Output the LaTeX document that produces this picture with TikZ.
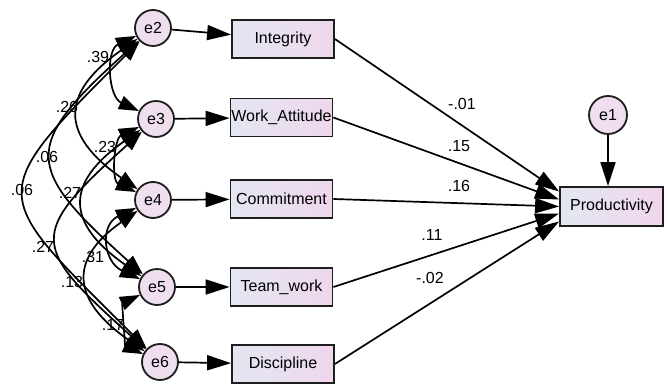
\documentclass[tikz,border=0pt]{standalone}
\usepackage{fontspec}
\setmainfont{Liberation Sans}
\usetikzlibrary{arrows.meta}
\definecolor{boxL}{RGB}{226,231,242}
\definecolor{boxR}{RGB}{240,214,236}
\definecolor{errF}{RGB}{238,222,238}
\definecolor{edge}{RGB}{30,30,30}
\begin{document}
\begin{tikzpicture}[x=1pt,y=1pt,
  font=\fontsize{16}{19}\selectfont,
  box/.style={draw=edge, line width=1.8pt, left color=boxL, right color=boxR,
    minimum width=102pt, minimum height=38pt, inner sep=0pt},
  err/.style={circle, draw=edge, line width=1.8pt, fill=errF,
    minimum size=36pt, inner sep=0pt},
  pth/.style={line width=1.7pt, -{Triangle[length=24pt,width=15pt]}},
  cov/.style={line width=1.7pt,
    {Triangle[length=20pt,width=14pt]}-{Triangle[length=20pt,width=14pt]}},
  lbl/.style={inner sep=0pt}]
\useasboundingbox (0,0) rectangle (668,385);

% error terms
\node[err] (e2) at (153,357) {e2};
\node[err] (e3) at (156,266) {e3};
\node[err] (e4) at (153,185) {e4};
\node[err] (e5) at (157,98) {e5};
\node[err] (e6) at (160,23) {e6};
\node[err, minimum size=38pt] (e1) at (608,270) {e1};

% boxes
\node[box] (intg) at (283,346) {Integrity};
\node[box] (watt) at (281.5,267.5) {Work\_Attitude};
\node[box] (comm) at (281.5,186) {Commitment};
\node[box] (team) at (281.5,98) {Team\_work};
\node[box] (disc) at (283,21) {Discipline};
\node[box, minimum width=103pt, minimum height=39pt] (prod) at (611.5,178.5) {Productivity};

% error -> observed
\draw[pth] (e2) -- (intg);
\draw[pth] (e3) -- (watt);
\draw[pth] (e4) -- (comm);
\draw[pth] (e5) -- (team);
\draw[pth] (e6) -- (disc);
\draw[pth] (e1.south) -- (e1.south |- prod.north);

% observed -> productivity
\draw[pth] (intg.east) -- ([yshift=15pt]prod.west);
\draw[pth] (watt.east) -- ([yshift=7pt]prod.west);
\draw[pth] (comm.east) -- (prod.west);
\draw[pth] (team.east) -- ([yshift=-7pt]prod.west);
\draw[pth] (disc.east) -- ([yshift=-15pt]prod.west);

% covariances
\draw[cov] (e2) to[out=205, in=155, looseness=1.15] (e3);
\draw[cov] (e3) to[out=205, in=155, looseness=1.08] (e4);
\draw[cov] (e4) to[out=205, in=155, looseness=1.45] (e5);
\draw[cov] (e5) to[out=205, in=155, looseness=0.85] (e6);
\draw[cov] (e2) to[out=215, in=145, looseness=1.62] (e4);
\draw[cov] (e3) to[out=215, in=145, looseness=1.62] (e5);
\draw[cov] (e4) to[out=215, in=145, looseness=1.58] (e6);
\draw[cov] (e2) to[out=222, in=138, looseness=1.74] (e5);
\draw[cov] (e3) to[out=222, in=138, looseness=1.82] (e6);
\draw[cov] (e2) to[out=225, in=135, looseness=1.85] (e6);

% covariance labels
\node[lbl] (c23) at (98,328) {.39};
\node[lbl] (c24) at (67,278) {.26};
\node[lbl] (c25) at (47,228) {.06};
\node[lbl] (c26) at (22,195) {.06};
\node[lbl] (c34) at (105,238) {.23};
\node[lbl] (c35) at (70,192) {.27};
\node[lbl] (c36) at (43,138) {.27};
\node[lbl] (c45) at (93,128) {.31};
\node[lbl] (c46) at (72,103) {.13};
\node[lbl] (c56) at (113,60) {.17};

% path labels
\node[lbl] (p1) at (462,281) {-.01};
\node[lbl] (p2) at (459,239) {.15};
\node[lbl] (p3) at (459,199) {.16};
\node[lbl] (p4) at (432,150) {.11};
\node[lbl] (p5) at (430,107) {-.02};
\end{tikzpicture}
\end{document}
